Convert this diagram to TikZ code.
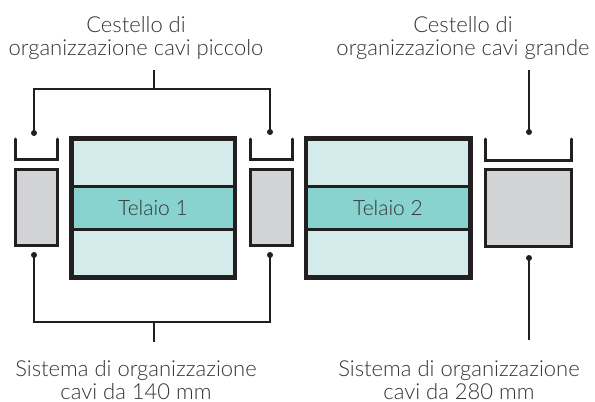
\documentclass[tikz,border=0pt]{standalone}
\usepackage{fontspec}
\setmainfont{Lato}[UprightFont=* Light]
\definecolor{strokec}{HTML}{231F20}
\definecolor{framec}{HTML}{D3EBEB}
\definecolor{bandc}{HTML}{88D2CF}
\definecolor{greyc}{HTML}{D1D3D4}
\definecolor{textc}{HTML}{333333}
\tikzset{
  boxline/.style={draw=strokec, line width=3pt, inner sep=0pt},
  greybox/.style={boxline, fill=greyc},
  framebox/.style={boxline, fill=framec},
  bandbox/.style={boxline, fill=bandc, text=textc, font=\fontsize{21}{24}\selectfont},
  basket/.style={draw=strokec, line width=3pt, line cap=round},
  conn/.style={draw=strokec, line width=1.2pt},
  dotc/.style={fill=strokec},
  lbl/.style={text=textc, align=center, inner sep=0pt, anchor=base, font=\fontsize{22}{22.5}\selectfont},
}
\begin{document}
\begin{tikzpicture}[x=1pt,y=-1pt]
\useasboundingbox (0,0) rectangle (595,402);
% frames
\node[framebox, minimum width=162pt, minimum height=137.5pt] (f1) at (153,207.75) {};
\node[bandbox, minimum width=162pt, minimum height=42.3pt] (b1) at (153,207.85) {Telaio 1};
\draw[boxline] (f1.north west) rectangle (f1.south east);
\node[framebox, minimum width=163pt, minimum height=137.5pt] (f2) at (388,207.75) {};
\node[bandbox, minimum width=163pt, minimum height=42.3pt] (b2) at (388,207.85) {Telaio 2};
\draw[boxline] (f2.north west) rectangle (f2.south east);
% grey boxes
\node[greybox, minimum width=42pt, minimum height=76pt] (g1) at (36.5,207.5) {};
\node[greybox, minimum width=42pt, minimum height=76pt] (g2) at (271,207.5) {};
\node[greybox, minimum width=86pt, minimum height=77pt] (g3) at (528.5,207.5) {};
% baskets
\draw[basket] (15.5,139) -- (15.5,159.5) -- (57.5,159.5) -- (57.5,139);
\draw[basket] (250,139) -- (250,159.5) -- (292,159.5) -- (292,139);
\draw[basket] (485.5,139) -- (485.5,160) -- (571.5,160) -- (571.5,139);
% connector points
\coordinate (d1) at (34,133);
\coordinate (d2) at (270,132);
\coordinate (d3) at (529,132);
\coordinate (e1) at (34,255);
\coordinate (e2) at (270,255);
\coordinate (e3) at (529,258);
\coordinate (tl) at (34,89);
\coordinate (tr) at (270,89);
\coordinate (ts) at (154,89);
\coordinate (tst) at (154,70);
\coordinate (t3) at (529,70);
\coordinate (bl) at (34,322);
\coordinate (br) at (270,322);
\coordinate (bs) at (154,322);
\coordinate (bsb) at (154,342);
\coordinate (b3) at (529,340);
% connectors
\draw[conn] (d1) -- (tl) -- (tr) -- (d2);
\draw[conn] (ts) -- (tst);
\draw[conn] (d3) -- (t3);
\draw[conn] (e1) -- (bl) -- (br) -- (e2);
\draw[conn] (bs) -- (bsb);
\draw[conn] (e3) -- (b3);
\foreach \p in {d1,d2,d3,e1,e2,e3} \fill[dotc] (\p) circle (3pt);
% labels
\node[lbl] (l1) at (136,55) {Cestello di\\organizzazione cavi piccolo};
\node[lbl] (l2) at (463,55) {Cestello di\\organizzazione cavi grande};
\node[lbl] (l3) at (136,399) {Sistema di organizzazione\\cavi da 140 mm};
\node[lbl] (l4) at (459,399) {Sistema di organizzazione\\cavi da 280 mm};
\end{tikzpicture}
\end{document}
